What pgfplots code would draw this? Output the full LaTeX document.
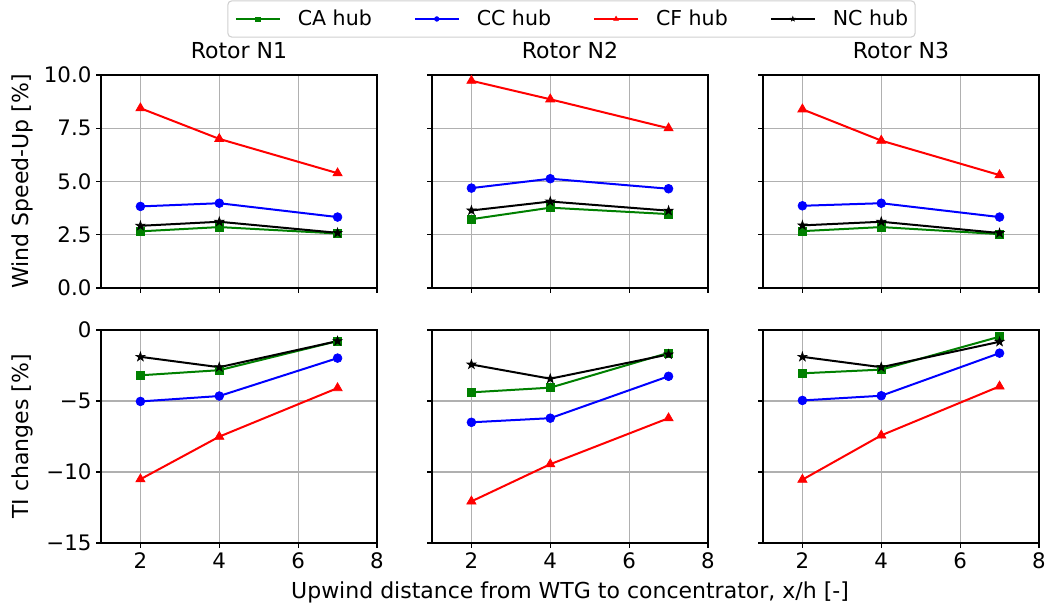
\documentclass[border=0pt]{standalone}
\usepackage{fontspec}
\setmainfont{DejaVu Sans}
\usepackage{pgfplots}
\usepackage{pgfplotstable}
\pgfplotsset{compat=1.18}
\usepgfplotslibrary{groupplots}

\definecolor{mplgreen}{HTML}{008000}
\definecolor{mplgrid}{HTML}{B0B0B0}
\definecolor{legedge}{HTML}{D0D0D0}

\newcommand\fs{\fontsize{15.4}{18}\selectfont}
\newcommand\fst{\fontsize{16}{19}\selectfont}
\newcommand\fsl{\fontsize{16.5}{19.5}\selectfont}

% filled five-pointed star
\pgfdeclareplotmark{fstar}{%
  \pgfpathmoveto{\pgfpointpolar{90}{\pgfplotmarksize}}%
  \pgfpathlineto{\pgfpointpolar{126}{0.382\pgfplotmarksize}}%
  \pgfpathlineto{\pgfpointpolar{162}{\pgfplotmarksize}}%
  \pgfpathlineto{\pgfpointpolar{198}{0.382\pgfplotmarksize}}%
  \pgfpathlineto{\pgfpointpolar{234}{\pgfplotmarksize}}%
  \pgfpathlineto{\pgfpointpolar{270}{0.382\pgfplotmarksize}}%
  \pgfpathlineto{\pgfpointpolar{306}{\pgfplotmarksize}}%
  \pgfpathlineto{\pgfpointpolar{342}{0.382\pgfplotmarksize}}%
  \pgfpathlineto{\pgfpointpolar{18}{\pgfplotmarksize}}%
  \pgfpathlineto{\pgfpointpolar{54}{0.382\pgfplotmarksize}}%
  \pgfpathclose
  \pgfusepathqfillstroke
}

% wind speed-up [%], columns: x, CA, CC, CF, NC
\pgfplotstableread{
x   CA    CC    CF    NC
2   2.66  3.83  8.44  2.92
4   2.86  3.98  7.00  3.11
7   2.56  3.33  5.39  2.59
}\suNone
\pgfplotstableread{
x   CA    CC    CF    NC
2   3.23  4.69  9.73  3.64
4   3.77  5.13  8.86  4.06
7   3.47  4.66  7.50  3.63
}\suNtwo
\pgfplotstableread{
x   CA    CC    CF    NC
2   2.67  3.86  8.39  2.94
4   2.86  3.98  6.92  3.11
7   2.53  3.33  5.30  2.58
}\suNthree
% TI changes [%]
\pgfplotstableread{
x   CA     CC     CF      NC
2   -3.19  -5.03  -10.51  -1.89
4   -2.83  -4.65  -7.51   -2.62
7   -0.78  -1.98  -4.09   -0.78
}\tiNone
\pgfplotstableread{
x   CA     CC     CF      NC
2   -4.39  -6.50  -12.07  -2.43
4   -4.06  -6.21  -9.45   -3.43
7   -1.61  -3.26  -6.21   -1.72
}\tiNtwo
\pgfplotstableread{
x   CA     CC     CF      NC
2   -3.05  -4.96  -10.54  -1.89
4   -2.79  -4.63  -7.42   -2.62
7   -0.47  -1.63  -3.97   -0.83
}\tiNthree

\pgfplotsset{
  panel/.style={
    scale only axis, width=207pt, height=159.75pt,
    xmin=1, xmax=8, xtick={2,4,6,8},
    tick pos=left, tick align=outside, major tick length=3.65pt,
    tick style={black, line width=0.8pt},
    axis line style={black, line width=0.8pt},
    grid=major, major grid style={mplgrid, line width=0.8pt},
    tick label style={font=\fst, black},
    label style={font=\fsl},
    title style={font=\fsl, at={(0.5,1)}, anchor=base, yshift=6pt},
    ylabel style={at={(axis description cs:-0.286,0.5)}, anchor=center},
    legend image code/.code={%
      \draw[mark repeat=2, mark phase=2, mark options={solid, line width=0.3pt, scale=0.55}]
        plot coordinates {(0pt,0pt) (16.5pt,0pt) (33pt,0pt)};},
  },
  toprow/.style={ymin=0, ymax=10, ytick={0,2.5,5,7.5,10}, xticklabel=\empty},
  botrow/.style={ymin=-15, ymax=0, ytick={-15,-10,-5,0}, xticklabels={2,4,6,8}},
  inner/.style={yticklabel=\empty},
  ca/.style={mplgreen, line width=1.5pt, mark=square*, mark size=3pt, mark options={solid, line width=0.5pt}},
  cc/.style={blue, line width=1.5pt, mark=*, mark size=3.3pt, mark options={solid, line width=0.5pt}},
  cf/.style={red, line width=1.5pt, mark=triangle*, mark size=4pt, mark options={solid, line width=0.5pt}},
  nc/.style={black, line width=1.5pt, mark=fstar, mark size=3.6pt, mark options={solid, line width=0.5pt}},
}

\begin{document}
\begin{tikzpicture}
\begin{groupplot}[
  group style={group size=3 by 2, horizontal sep=41.25pt, vertical sep=31.5pt},
  panel,
]
\nextgroupplot[toprow, title={Rotor N1}, ylabel={Wind Speed-Up [\%]},
  yticklabels={0.0,2.5,5.0,7.5,10.0},
  legend columns=4,
  legend style={at={(axis description cs:1.7047,1.263)}, anchor=center,
    draw=legedge, line width=0.8pt, rounded corners=3pt, font=\fs,
    inner xsep=5.25pt, inner ysep=7pt,
    nodes={inner sep=0pt},
    cells={anchor=west},
    /tikz/every odd column/.append style={column sep=12.75pt},
    /tikz/every even column/.append style={column sep=31.5pt}},
]
\addplot[ca] table[x=x, y=CA] {\suNone};
\addplot[cc] table[x=x, y=CC] {\suNone};
\addplot[cf] table[x=x, y=CF] {\suNone};
\addplot[nc] table[x=x, y=NC] {\suNone};
\legend{CA hub, CC hub, CF hub, NC hub}

\nextgroupplot[toprow, inner, title={Rotor N2}]
\addplot[ca] table[x=x, y=CA] {\suNtwo};
\addplot[cc] table[x=x, y=CC] {\suNtwo};
\addplot[cf] table[x=x, y=CF] {\suNtwo};
\addplot[nc] table[x=x, y=NC] {\suNtwo};

\nextgroupplot[toprow, inner, title={Rotor N3}]
\addplot[ca] table[x=x, y=CA] {\suNthree};
\addplot[cc] table[x=x, y=CC] {\suNthree};
\addplot[cf] table[x=x, y=CF] {\suNthree};
\addplot[nc] table[x=x, y=NC] {\suNthree};

\nextgroupplot[botrow, ylabel={TI changes [\%]},
  yticklabels={−15,−10,−5,0}]
\addplot[ca] table[x=x, y=CA] {\tiNone};
\addplot[cc] table[x=x, y=CC] {\tiNone};
\addplot[cf] table[x=x, y=CF] {\tiNone};
\addplot[nc] table[x=x, y=NC] {\tiNone};

\nextgroupplot[botrow, inner,
  xlabel={Upwind distance from WTG to concentrator, x/h [-]},
  xlabel style={at={(axis description cs:0.5,0)}, anchor=base, yshift=-41.25pt}]
\addplot[ca] table[x=x, y=CA] {\tiNtwo};
\addplot[cc] table[x=x, y=CC] {\tiNtwo};
\addplot[cf] table[x=x, y=CF] {\tiNtwo};
\addplot[nc] table[x=x, y=NC] {\tiNtwo};

\nextgroupplot[botrow, inner]
\addplot[ca] table[x=x, y=CA] {\tiNthree};
\addplot[cc] table[x=x, y=CC] {\tiNthree};
\addplot[cf] table[x=x, y=CF] {\tiNthree};
\addplot[nc] table[x=x, y=NC] {\tiNthree};
\end{groupplot}
\pgfresetboundingbox
\path[use as bounding box]
  ([shift={(-75.75pt,56.25pt)}]group c1r1.north west) rectangle
  ([shift={(710.25pt,-401.25pt)}]group c1r1.north west);
\end{tikzpicture}
\end{document}
